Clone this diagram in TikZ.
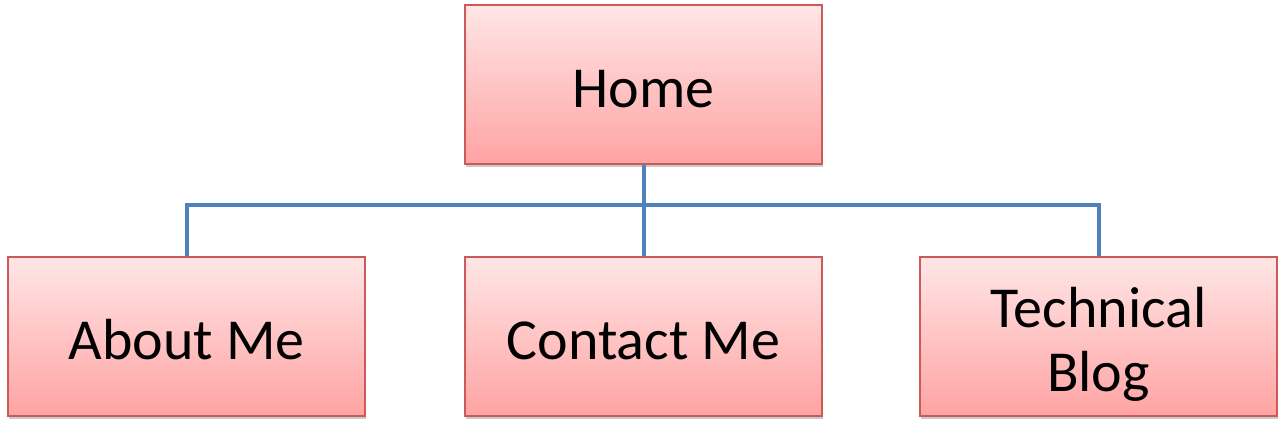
\documentclass[tikz,border=0pt]{standalone}
\usepackage{fontspec}
\setmainfont{Carlito}
\usetikzlibrary{shadows}
\definecolor{boxtop}{HTML}{FFE6E6}
\definecolor{boxbot}{HTML}{FFA3A3}
\definecolor{boxline}{HTML}{CC5A58}
\definecolor{linkblue}{HTML}{4F81BD}
\newcommand\boxtext[1]{\raisebox{0pt}[\dimexpr\height+20pt\relax][\depth]{\begin{tabular}{@{}c@{}}#1\end{tabular}}}
\tikzset{
  pagebox/.style={draw=boxline, line width=1.3pt, top color=boxtop, bottom color=boxbot,
    minimum width=357pt, minimum height=159pt, inner sep=0pt, align=center,
    font=\fontsize{58}{64}\selectfont,
    drop shadow={shadow xshift=1pt, shadow yshift=-3pt, opacity=0.35, fill=black!60}},
  conn/.style={draw=linkblue, line width=4pt}
}
\begin{document}
\begin{tikzpicture}[x=1pt,y=-1pt]
\useasboundingbox (0,0) rectangle (1285,428);
\node[pagebox] (home) at (643.5,84.5) {\boxtext{Home}};
\node[pagebox] (about) at (186.5,336.5) {\boxtext{About Me}};
\node[pagebox] (contact) at (643.5,336.5) {\boxtext{Contact Me}};
\node[pagebox] (tech) at (1098.5,336.5) {\boxtext{Technical\\Blog}};
\coordinate (j) at (643.5,205);
\draw[conn] (home.south) -- (j);
\draw[conn] (j) -- (contact.north);
\draw[conn] (about.north) -- (about.north |- j) -- (tech.north |- j) -- (tech.north);
\end{tikzpicture}
\end{document}
